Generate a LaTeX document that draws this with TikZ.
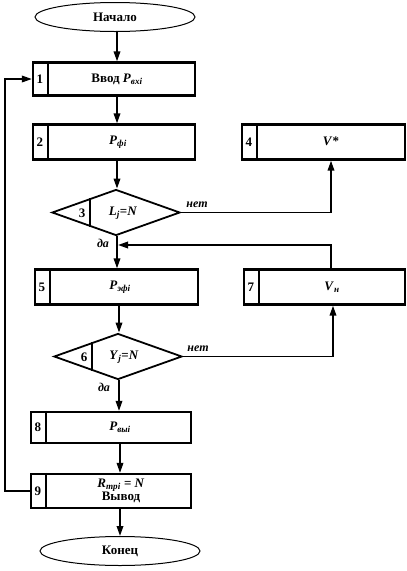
\documentclass[tikz,border=0pt]{standalone}
\usepackage{fontspec}
\setmainfont{Liberation Serif}
\usetikzlibrary{arrows.meta,shapes.geometric,calc}
\begin{document}
\begin{tikzpicture}[x=1pt,y=-1pt,line width=1.8pt,
  blk/.style={draw,rectangle,minimum height=33pt,inner sep=0pt,line width=2.2pt},
  term/.style={draw,ellipse,minimum width=160pt,minimum height=29pt,inner sep=0pt,line width=1pt,font=\bfseries\fontsize{13}{15}\selectfont},
  dec/.style={draw,diamond,minimum width=128pt,minimum height=46pt,inner sep=0pt},
  arr/.style={-{Triangle[length=10pt,width=6.5pt]}},
  num/.style={font=\bfseries\fontsize{13}{15}\selectfont,inner sep=0pt},
  txt/.style={font=\bfseries\fontsize{13}{15}\selectfont,inner sep=0pt},
  lbl/.style={font=\bfseries\itshape\fontsize{12}{14}\selectfont,inner sep=0pt}]
\useasboundingbox (0,0) rectangle (407,571);
% terminals
\node[term] (start) at (115,17) {Начало};
\node[term] (stop) at (120,551) {Конец};
% blocks
\node[blk,minimum width=162pt] (b1) at (114,79) {};
\node[blk,minimum width=162pt,minimum height=35pt] (b2) at (114,142) {};
\node[blk,minimum width=163pt,minimum height=35pt] (b4) at (323.5,142) {};
\node[blk,minimum width=163pt,minimum height=35pt] (b5) at (116.5,287) {};
\node[blk,minimum width=161pt,minimum height=35pt] (b7) at (324.5,287) {};
\node[blk,minimum width=160pt,minimum height=31pt] (b8) at (111,427.5) {};
\node[blk,minimum width=160pt,minimum height=34pt] (b9) at (111,491) {};
\foreach \b/\n in {b1/1,b2/2,b4/4,b5/5,b7/7,b8/8,b9/9}{
  \draw ([xshift=16pt]\b.north west) -- ([xshift=16pt]\b.south west);
  \node[num] (n\n) at ([xshift=8pt]\b.west) {\n};
}
\node[txt] (t1) at (117,79) {Ввод \textit{P}\textsubscript{\textit{вхi}}};
\node[txt] (t2) at (118,142) {\textit{P}\textsubscript{\textit{фi}}};
\node[txt] (t4) at (331,141) {\textit{V}*};
\node[txt] (t5) at (120,287) {\textit{P}\textsubscript{\textit{эфi}}};
\node[txt] (t7) at (332,287) {\textit{V}\textsubscript{\textit{н}}};
\node[txt] (t8) at (120,427) {\textit{P}\textsubscript{\textit{выi}}};
\node[txt,align=center,font=\bfseries\fontsize{13}{13}\selectfont] (t9) at (121,491) {\textit{R}\textsubscript{\textit{трi}} = \textit{N}\\Вывод};
% decisions
\node[dec] (d3) at (116,212.5) {};
\node[dec] (d6) at (118,356.5) {};
\foreach \d/\n in {d3/3,d6/6}{
  \draw ($(\d.west)!0.6!(\d.north)$) -- ($(\d.west)!0.6!(\d.south)$);
}
\node[num] (n3) at (82,213) {3};
\node[num] (n6) at (84,357) {6};
\node[txt] (t3) at (123,213) {\textit{L}\textsubscript{\textit{j}}=\textit{N}};
\node[txt] (t6) at (124,357) {\textit{Y}\textsubscript{\textit{j}}=\textit{N}};
% labels
\node[lbl] (no3) at (197,205) {нет};
\node[lbl] (yes3) at (103,243) {да};
\node[lbl] (no6) at (198,349) {нет};
\node[lbl] (yes6) at (104,387) {да};
% connectors
\draw[arr] (start.south -| 117,0) -- (b1.north -| 117,0);
\draw[arr] (b1.south -| 117,0) -- (b2.north -| 117,0);
\draw[arr] (b2.south -| 117,0) -- (d3.north -| 117,0);
\draw[arr] (d3.south -| 117,0) -- (b5.north -| 117,0);
\draw[arr] (d3.east) -| ([xshift=7.5pt]b4.south);
\coordinate (join) at (118,245);
\draw[arr] ([xshift=6.5pt]b7.north) |- (join);
\draw[arr] (b5.south -| 119,0) -- (d6.north -| 119,0);
\draw[arr] (d6.east) -| ([xshift=8.5pt]b7.south);
\draw[arr] (d6.south -| 119,0) -- (b8.north -| 119,0);
\draw[arr] (b8.south -| 120,0) -- (b9.north -| 120,0);
\draw[arr] (b9.south -| 120,0) -- (stop.north -| 120,0);
\draw[arr] (b9.west) -- ++(-25,0) |- (b1.west);
\end{tikzpicture}
\end{document}
